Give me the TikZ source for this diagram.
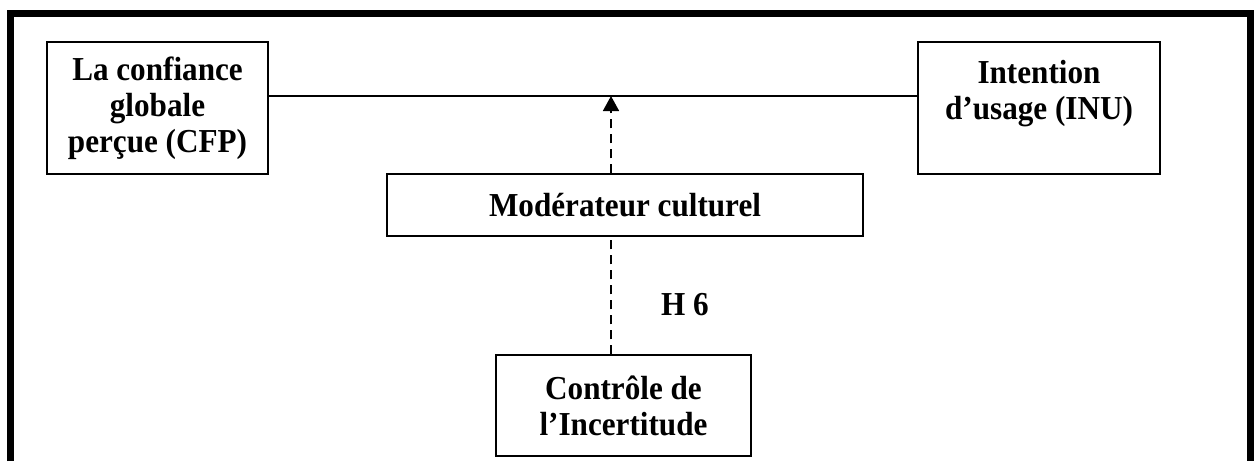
\documentclass[tikz,border=0pt]{standalone}
\usepackage{fontspec}
\setmainfont{Liberation Serif}[FakeStretch=0.93]
\usetikzlibrary{arrows.meta}
\begin{document}
\begin{tikzpicture}[x=1pt,y=-1pt,
  txt/.style={font=\bfseries\fontsize{33.5}{36}\selectfont},
  box/.style={draw,line width=1.4pt,inner sep=0pt,align=center,txt},
  conn/.style={line width=1.6pt},
  dashconn/.style={line width=1.6pt,dash pattern=on 9pt off 6pt}]
\useasboundingbox (0,0) rectangle (1255,461);
\draw[line width=7pt] (10.5,461) -- (10.5,13.5) -- (1250,13.5) -- (1250,461);
\node[box,minimum width=221pt,minimum height=132pt] (cfp) at (157.5,108) {La confiance\\globale\\perçue (CFP)};
\node[box,minimum width=242pt,minimum height=132pt] (inu) at (1039,108) {Intention\\d’usage (INU)\\\mbox{}};
\node[box,minimum width=476pt,minimum height=62pt] (mod) at (625,205) {Modérateur culturel};
\node[box,minimum width=255pt,minimum height=101pt] (ctl) at (623.5,405.5) {Contrôle de\\l’Incertitude};
\node[txt,anchor=base] (h6) at (685,315) {H 6};
\coordinate (hl) at (0,96);
\coordinate (tip) at (611,96);
\draw[conn] (cfp.east |- hl) -- (inu.west |- hl);
\draw[dashconn,-{Triangle[width=16pt,length=15pt]}] (tip |- mod.north) -- (tip);
\draw[dashconn] (tip |- ctl.north) -- (tip |- mod.south);
\end{tikzpicture}
\end{document}
